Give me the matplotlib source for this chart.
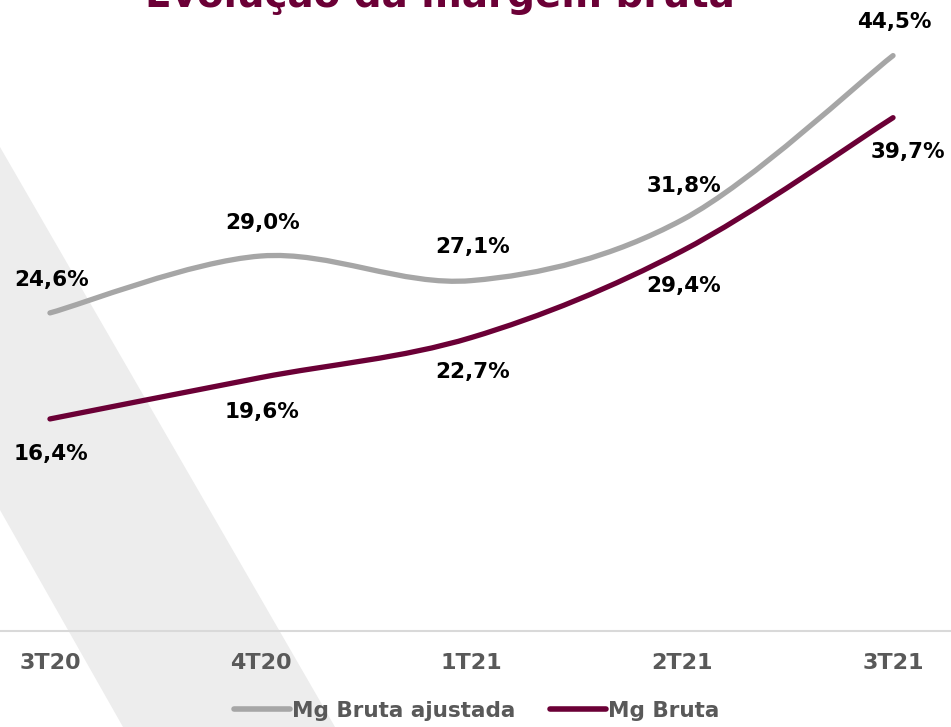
import numpy as np
import matplotlib
matplotlib.use("Agg")
import matplotlib.pyplot as plt
from matplotlib.path import Path
from matplotlib.patches import PathPatch, Polygon
from matplotlib.lines import Line2D

# Data
quarters = ["3T20", "4T20", "1T21", "2T21", "3T21"]
mg_bruta_ajustada = [24.6, 29.0, 27.1, 31.8, 44.5]
mg_bruta = [16.4, 19.6, 22.7, 29.4, 39.7]

GRAY = "#a6a6a6"
MAROON = "#6b0036"
TEXT_GRAY = "#595959"
W, H = 951, 727


def smooth_path(xs, ys):
    # Excel-style smoothed line: Catmull-Rom segments as cubic Beziers
    pts = np.column_stack([xs, ys]).astype(float)
    ext = np.vstack([pts[0], pts, pts[-1]])
    verts = [tuple(pts[0])]
    codes = [Path.MOVETO]
    for i in range(1, len(ext) - 2):
        p0, p1, p2, p3 = ext[i - 1], ext[i], ext[i + 1], ext[i + 2]
        c1 = p1 + (p2 - p0) / 6.0
        c2 = p2 - (p3 - p1) / 6.0
        verts += [tuple(c1), tuple(c2), tuple(p2)]
        codes += [Path.CURVE4] * 3
    return Path(verts, codes)


fig = plt.figure(figsize=(W / 100, H / 100), dpi=100)

ax = fig.add_axes([0, 1 - 631 / H, 1, 631 / H])
ax.set_facecolor("none")
x = np.arange(len(quarters))
ax.set_xlim(-0.237, 4.275)
ax.set_ylim(0, 48.8)

# background diagonal band (behind the lines)
band = Polygon([(0 / W, 1 - 147 / H), (335 / W, 0), (123 / W, 0), (0, 1 - 510 / H)],
               closed=True, transform=fig.transFigure, facecolor="#ededed",
               edgecolor="none", zorder=0, clip_on=False)
ax.add_patch(band)

for series, color in [(mg_bruta_ajustada, GRAY), (mg_bruta, MAROON)]:
    patch = PathPatch(smooth_path(x, series), facecolor="none", edgecolor=color,
                      linewidth=3.8, capstyle="round", joinstyle="round", zorder=3)
    ax.add_patch(patch)

label_kw = dict(ha="center", va="center", fontsize=15.5, fontweight="bold",
                color="black", zorder=4)
for i, v in enumerate(mg_bruta_ajustada):
    ax.annotate(f"{v:.1f}".replace(".", ",") + "%", (x[i], v),
                xytext=(1, 24), textcoords="offset points", **label_kw)
for i, v in enumerate(mg_bruta):
    dx = 11 if i == len(mg_bruta) - 1 else 1
    ax.annotate(f"{v:.1f}".replace(".", ",") + "%", (x[i], v),
                xytext=(dx, -25), textcoords="offset points", **label_kw)

for side in ["top", "left", "right"]:
    ax.spines[side].set_visible(False)
ax.spines["bottom"].set_color("#d9d9d9")
ax.spines["bottom"].set_linewidth(1.5)
ax.spines["bottom"].set_zorder(1)
ax.set_yticks([])
ax.set_xticks(x)
ax.set_xticklabels(quarters, fontsize=16, fontweight="bold", color=TEXT_GRAY)
ax.tick_params(axis="x", length=0, pad=16)

fig.text(0.463, 1 - 7 / H, "Evolução da margem bruta", ha="center", va="baseline",
         fontsize=28, fontweight="bold", color=MAROON)

handles = [Line2D([], [], color=GRAY, lw=4, solid_capstyle="round"),
           Line2D([], [], color=MAROON, lw=4, solid_capstyle="round")]
leg = fig.legend(handles, ["Mg Bruta ajustada", "Mg Bruta"], loc="center",
                 bbox_to_anchor=(0.501, 1 - 711 / H), ncol=2, frameon=False,
                 handlelength=2.6, handletextpad=0.1, columnspacing=1.6,
                 prop={"weight": "bold", "size": 15.5})
for t in leg.get_texts():
    t.set_color(TEXT_GRAY)

fig.savefig("out.png", dpi=100)
